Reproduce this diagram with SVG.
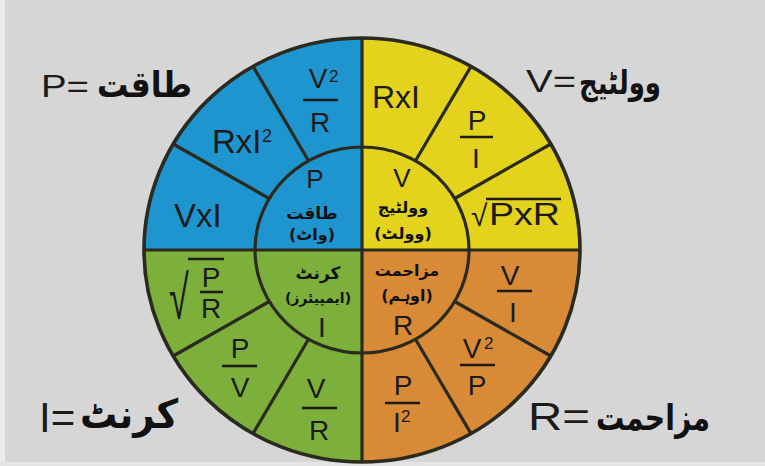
<svg xmlns="http://www.w3.org/2000/svg" width="765" height="466" viewBox="0 0 765 466">
<style>
.f{font-family:"Liberation Sans",Arial,sans-serif;fill:#1b1b1b}
.u{font-family:"DejaVu Sans",sans-serif;font-weight:bold;fill:#111}
.m{text-anchor:middle}
.bar{stroke:#1b1b1b;stroke-width:2.6}
.ln{stroke:#2a2a1e;stroke-width:3.2;fill:none}
</style>
<rect width="765" height="466" fill="#d6d6d6"/>
<rect x="0" y="0" width="5" height="466" fill="#ebebeb"/>
<rect x="0" y="462" width="765" height="4" fill="#e4e4e4"/>

<g id="quadrant-power"><path d="M362,250 H144 A218,212 0 0 1 362,38 Z" fill="#1f95d0"/></g>
<g id="quadrant-voltage"><path d="M362,250 V38 A218,212 0 0 1 580,250 Z" fill="#e3d31d"/></g>
<g id="quadrant-resistance"><path d="M362,250 H580 A218,212 0 0 1 362,462 Z" fill="#d98a37"/></g>
<g id="quadrant-current"><path d="M362,250 V462 A218,212 0 0 1 144,250 Z" fill="#7db03b"/></g>

<g id="dividers" class="ln">
<ellipse cx="362" cy="250" rx="107" ry="103"/>
<line x1="362" y1="38" x2="362" y2="462"/>
<line x1="144" y1="250" x2="580" y2="250"/>
<line x1="454.7" y1="198.5" x2="550.8" y2="144"/>
<line x1="415.5" y1="160.8" x2="471" y2="66.4"/>
<line x1="308.5" y1="160.8" x2="253" y2="66.4"/>
<line x1="269.3" y1="198.5" x2="173.2" y2="144"/>
<line x1="269.3" y1="301.5" x2="173.2" y2="356"/>
<line x1="308.5" y1="339.2" x2="253" y2="433.6"/>
<line x1="415.5" y1="339.2" x2="471" y2="433.6"/>
<line x1="454.7" y1="301.5" x2="550.8" y2="356"/>
<ellipse cx="362" cy="250" rx="218" ry="212" stroke-width="3.6"/>
</g>

<!-- power cells -->
<g id="p-v2r"><text class="f m" x="318" y="88" font-size="28">V</text><text class="f" x="329" y="82" font-size="17">2</text><line class="bar" x1="303" y1="100" x2="338" y2="100"/><text class="f m" x="320" y="132" font-size="28">R</text></g>
<g id="p-ri2"><text class="f" x="212" y="153" font-size="33">RxI</text><text class="f" x="262" y="142" font-size="18">2</text></g>
<g id="p-vi"><text class="f" x="174" y="227" font-size="33">VxI</text></g>
<g id="p-center"><text class="f m" x="315" y="188" font-size="26">P</text><text class="u m" x="312" y="219" font-size="17">طاقت</text><text class="u m" x="312" y="240" font-size="16">(واٹ)</text></g>

<!-- voltage cells -->
<g id="v-ri"><text class="f" x="372" y="108" font-size="32">RxI</text></g>
<g id="v-pi"><text class="f m" x="477" y="130" font-size="28">P</text><line class="bar" x1="460" y1="137" x2="493" y2="137"/><text class="f m" x="476" y="168" font-size="28">I</text></g>
<g id="v-sqrt"><text class="f" x="471" y="226" font-size="30">√</text><line class="bar" x1="486" y1="199" x2="561" y2="199"/><text class="f" x="489" y="225" font-size="31" textLength="71" lengthAdjust="spacingAndGlyphs">PxR</text></g>
<g id="v-center"><text class="f m" x="402" y="187" font-size="26">V</text><text class="u m" x="403" y="213" font-size="16">وولٹیج</text><text class="u m" x="403" y="239" font-size="16">(وولٹ)</text></g>

<!-- resistance cells -->
<g id="r-vi"><text class="f m" x="510" y="285" font-size="28">V</text><line class="bar" x1="497" y1="291" x2="532" y2="291"/><text class="f m" x="513" y="322" font-size="28">I</text></g>
<g id="r-v2p"><text class="f m" x="472" y="358" font-size="28">V</text><text class="f" x="484" y="349" font-size="17">2</text><line class="bar" x1="460" y1="365" x2="495" y2="365"/><text class="f m" x="477" y="395" font-size="28">P</text></g>
<g id="r-pi2"><text class="f m" x="403" y="395" font-size="28">P</text><line class="bar" x1="385" y1="403" x2="420" y2="403"/><text class="f" x="393" y="432" font-size="28">I</text><text class="f" x="401" y="422" font-size="17">2</text></g>
<g id="r-center"><text class="u m" x="407" y="276" font-size="16">مزاحمت</text><text class="u m" x="407" y="301" font-size="16">(اوہم)</text><text class="f m" x="403" y="335" font-size="28">R</text></g>

<!-- current cells -->
<g id="i-sqrt"><text class="f" transform="translate(169,319) scale(1.2,2.05)" font-size="30">√</text><line class="bar" x1="188" y1="259" x2="224" y2="259"/><text class="f m" x="211" y="287" font-size="28">P</text><line class="bar" x1="200" y1="292" x2="223" y2="292"/><text class="f m" x="211" y="318" font-size="28">R</text></g>
<g id="i-pv"><text class="f m" x="240" y="358" font-size="28">P</text><line class="bar" x1="222" y1="366" x2="257" y2="366"/><text class="f m" x="240" y="397" font-size="28">V</text></g>
<g id="i-vr"><text class="f m" x="316" y="398" font-size="28">V</text><line class="bar" x1="302" y1="408" x2="337" y2="408"/><text class="f m" x="319" y="440" font-size="28">R</text></g>
<g id="i-center"><text class="u m" x="318" y="279" font-size="17">کرنٹ</text><text class="u m" x="318" y="303" font-size="14">(ایمپیئرز)</text><text class="f m" x="322" y="337" font-size="28">I</text></g>

<!-- corner labels -->
<g id="label-power"><text class="f" x="41" y="97" font-size="31" textLength="48" lengthAdjust="spacingAndGlyphs">P=</text><text class="u" x="97" y="97" font-size="36" textLength="95" lengthAdjust="spacingAndGlyphs">طاقت</text></g>
<g id="label-voltage"><text class="f" x="526" y="92" font-size="31" textLength="50" lengthAdjust="spacingAndGlyphs">V=</text><text class="u" x="579" y="94" font-size="33" textLength="82" lengthAdjust="spacingAndGlyphs">وولٹیج</text></g>
<g id="label-current"><text class="f" x="39" y="432" font-size="42">I=</text><text class="u" x="80" y="428" font-size="40" textLength="98" lengthAdjust="spacingAndGlyphs">کرنٹ</text></g>
<g id="label-resistance"><text class="f" x="528" y="430" font-size="39" textLength="62" lengthAdjust="spacingAndGlyphs">R=</text><text class="u" x="596" y="430" font-size="36" textLength="114" lengthAdjust="spacingAndGlyphs">مزاحمت</text></g>
</svg>
